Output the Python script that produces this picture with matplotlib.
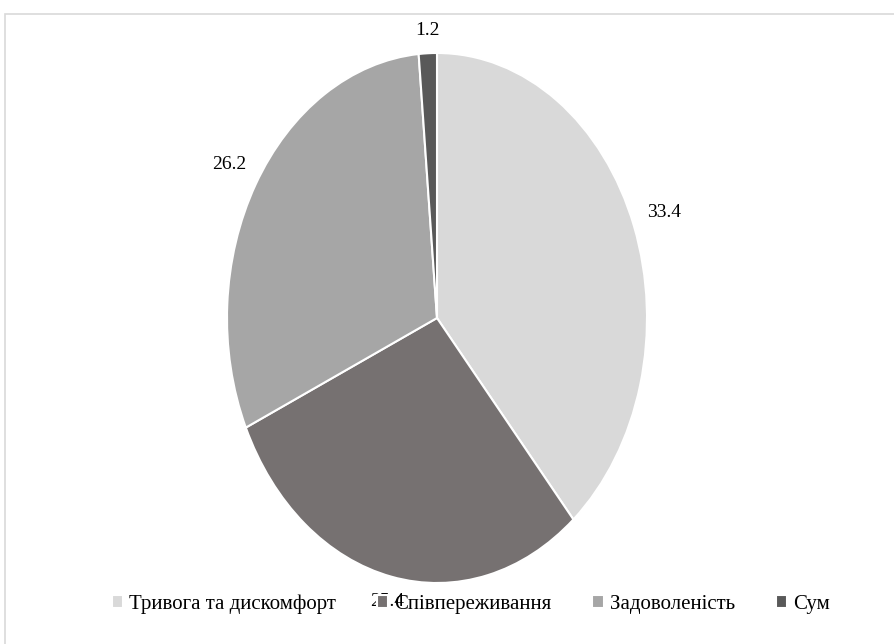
import numpy as np
import matplotlib.pyplot as plt
from matplotlib.patches import Rectangle

categories = ['Тривога та дискомфорт', 'Співпереживання', 'Задоволеність', 'Сум']
values = [33.4, 25.4, 26.2, 1.2]
colors = ['#d9d9d9', '#767171', '#a6a6a6', '#595959']

plt.rcParams['font.family'] = 'serif'
plt.rcParams['font.serif'] = ['Liberation Serif', 'DejaVu Serif']

fig = plt.figure(figsize=(8.95, 6.44), dpi=100)

# рамка області діаграми
top = 1 - 14 / 644
fig.add_artist(Rectangle((5 / 895, -0.2), 1.2, top + 0.2,
                         transform=fig.transFigure, fill=False,
                         edgecolor='#d9d9d9', linewidth=1.2))

# еліптичний пиріг: вісь без рівного масштабу
ax = fig.add_axes([(437 - 210) / 895, (644 - 318 - 265) / 644, 420 / 895, 530 / 644])
wedges, texts = ax.pie(values, colors=colors, startangle=90, counterclock=False,
                       labels=[f'{v}' for v in values], labeldistance=1.1,
                       wedgeprops=dict(edgecolor='white', linewidth=1.5),
                       textprops=dict(fontsize=14, color='black'))
ax.set_aspect('auto')
ax.set_xlim(-1, 1)
ax.set_ylim(-1, 1)

# підписи "за межами сектора": відступ від краю з урахуванням розміру тексту
renderer = fig.canvas.get_renderer()
pad = 14
for w, t in zip(wedges, texts):
    t.set_ha('center')
    t.set_va('center')
    ang = np.deg2rad((w.theta1 + w.theta2) / 2)
    edge = ax.transData.transform((np.cos(ang), np.sin(ang)))
    centre = ax.transData.transform((0, 0))
    d = (edge - centre) / np.linalg.norm(edge - centre)
    bb = t.get_window_extent(renderer)
    off = pad + abs(d[0]) * bb.width / 2 + abs(d[1]) * bb.height / 2
    t.set_position(ax.transData.inverted().transform(edge + d * off))

leg = ax.legend(wedges, categories, loc='center', ncol=4, frameon=False, fontsize=15,
                handlelength=0.55, handleheight=0.55, handletextpad=0.3,
                columnspacing=1.95)
leg.set_bbox_to_anchor((471 / 895, 1 - 604 / 644), transform=fig.transFigure)

fig.savefig('out.png', dpi=100)
